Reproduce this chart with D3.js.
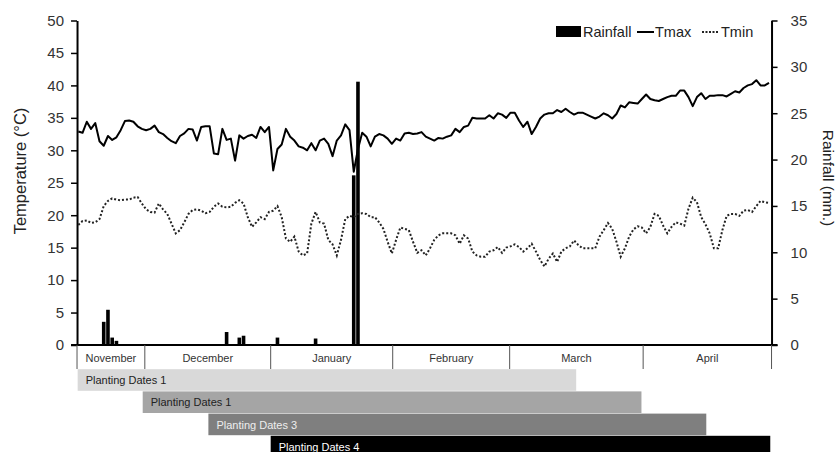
<!DOCTYPE html>
<html lang="en">
<head>
<meta charset="utf-8">
<script src="https://cdnjs.cloudflare.com/ajax/libs/d3/7.8.5/d3.min.js"></script>
<style>
    body { margin: 0; background: #fff; }
    svg { display: block; font-family: "Liberation Sans", Arial, sans-serif; }
</style>
</head>
<body>
<div id="chart"></div>
<script>
// daily temperatures (Nov -> Apr)
var tmax = [32.9,32.7,34.4,33.3,34.2,31.4,30.7,32.2,31.6,32.0,33.1,34.5,34.6,34.4,33.7,33.3,33.1,33.3,33.8,32.8,
    32.5,31.9,31.4,31.1,32.2,32.6,33.3,33.2,31.5,33.6,33.7,33.7,29.5,29.4,33.3,31.6,31.8,28.4,32.3,31.8,
    32.2,32.4,31.9,33.6,32.8,33.6,26.9,30.2,30.9,33.3,32.1,31.5,30.6,30.4,30.0,31.1,30.0,31.5,31.8,31.0,
    29.1,31.5,32.3,34.0,33.1,26.7,30.2,32.7,32.1,30.6,32.1,32.5,32.3,31.8,31.0,31.8,31.5,32.6,32.7,32.5,32.6,
    32.8,32.1,31.8,31.5,31.9,31.8,32.1,32.3,33.3,32.8,33.6,33.8,35.0,34.9,34.9,34.9,35.4,34.9,35.7,35.5,
    35.0,35.8,35.8,34.6,33.6,34.4,32.5,33.6,34.9,35.5,35.7,35.7,36.2,35.9,36.4,35.9,35.5,35.8,35.8,35.5,35.2,
    34.9,35.2,35.7,35.4,34.9,35.6,36.9,36.6,37.4,37.3,37.2,37.9,38.6,37.9,37.7,37.6,37.9,38.2,38.4,38.4,
    39.2,39.2,38.2,36.8,38.2,38.8,37.9,38.4,38.4,38.5,38.5,38.3,38.7,39.1,38.9,39.6,40.0,40.2,40.8,40.0,40.0,40.4];

var tmin = [18.5,19.1,19.2,18.8,18.9,19.4,21.4,22.2,22.6,22.4,22.3,22.4,22.4,22.7,22.8,21.8,20.9,20.5,20.4,21.8,
    20.9,20.2,18.7,17.2,17.7,18.9,20.2,20.8,20.9,20.7,20.3,20.5,21.3,21.8,21.3,21.2,21.3,21.9,22.3,21.8,
    19.7,18.2,18.9,19.7,19.4,20.5,20.7,21.4,19.7,16.4,15.9,16.7,14.4,13.8,14.1,18.7,20.5,18.9,18.7,16.2,
    15.5,13.8,16.2,19.4,19.9,19.7,20.2,20.3,20.2,19.7,19.7,18.9,17.9,15.9,14.1,16.2,18.1,17.9,17.7,15.9,14.2,
    14.6,13.8,14.9,16.2,16.9,17.2,17.2,17.2,16.9,15.6,16.9,16.4,14.4,13.8,13.6,13.6,14.4,14.6,15.1,14.2,
    15.0,15.2,15.5,15.1,14.4,14.9,15.6,14.4,13.1,12.1,13.3,14.1,12.8,14.4,14.9,15.2,16.1,15.4,14.9,14.9,14.9,
    14.9,16.7,17.7,18.8,17.9,15.9,13.6,14.9,16.7,17.8,18.3,18.1,17.2,18.2,20.2,19.9,18.4,17.2,18.2,18.9,
    18.7,18.4,21.0,22.7,22.0,19.7,18.6,17.2,14.9,14.9,17.7,19.9,20.2,20.2,19.9,20.7,20.8,20.5,21.4,22.2,22.0,21.9];

// rain days (index into the daily series) and amounts
var rainDay = [6, 7, 8, 9, 35, 38, 39, 47, 56, 65, 66];
var rainMm = [2.5, 3.8, 0.8, 0.45, 1.4, 0.8, 1.0, 0.8, 0.7, 18.3, 28.4];

// month cells under the axis, edges in day index
var months = ["November", "December", "January", "February", "March", "April"];
var monthEdges = [-0.3, 15.7, 45.4, 74.2, 101.8, 133.3, 163.6];

// planting windows, in day index
var plantLabels = ["Planting Dates 1", "Planting Dates 1", "Planting Dates 3", "Planting Dates 4"];
var plantStart = [-0.15, 15.2, 30.7, 45.4];
var plantEnd = [117.5, 132.9, 148.2, 163.3];

var tempTicks = [0, 5, 10, 15, 20, 25, 30, 35, 40, 45, 50];
var rainTicks = [0, 5, 10, 15, 20, 25, 30, 35];

(function() {
    var width = 837, height = 452;

    var svg = d3.select("#chart").append("svg")
        .attr("width", width)
        .attr("height", height);

    var x = d3.scaleLinear().domain([0, tmax.length - 1]).range([78.3, 769]);
    var yT = d3.scaleLinear().domain([0, 50]).range([345, 20.5]);
    var yR = d3.scaleLinear().domain([0, 35]).range([345, 20.5]);

    // axes
    var left = svg.append("g").attr("transform", "translate(" + x(-0.3) + ",0)")
        .call(d3.axisLeft(yT).tickValues(tempTicks).tickSize(6).tickPadding(7).tickSizeOuter(0));
    var right = svg.append("g").attr("transform", "translate(" + x(163.6) + ",0)")
        .call(d3.axisRight(yR).tickValues(rainTicks).tickSize(6).tickPadding(13).tickSizeOuter(0));

    [left, right].forEach(function(g) {
        g.select(".domain").attr("stroke", "#000").attr("stroke-width", 2);
        g.selectAll(".tick line").attr("stroke", "#000").attr("stroke-width", 1.5);
        g.selectAll(".tick text").attr("fill", "#333").style("font-size", "15px")
            .style("font-family", "Liberation Sans, Arial, sans-serif");
    });

    svg.append("line")
        .attr("x1", x(-0.3) - 6).attr("x2", x(163.6) + 6)
        .attr("y1", yT(0)).attr("y2", yT(0))
        .attr("stroke", "#000").attr("stroke-width", 2);

    // axis titles
    svg.append("text")
        .attr("transform", "translate(26,171) rotate(-90)")
        .attr("text-anchor", "middle")
        .style("font-size", "16.5px")
        .attr("fill", "#222")
        .text("Temperature (°C)");

    svg.append("text")
        .attr("transform", "translate(823,178) rotate(90)")
        .attr("text-anchor", "middle")
        .style("font-size", "15.5px")
        .attr("fill", "#222")
        .text("Rainfall (mm.)");

    // rainfall bars
    var bw = (x(1) - x(0)) * 0.85;
    svg.selectAll(".rain")
        .data(rainDay)
        .enter().append("rect")
        .attr("class", "rain")
        .attr("x", function(d) { return x(d) - bw / 2; })
        .attr("y", function(d, i) { return yR(rainMm[i]); })
        .attr("width", bw)
        .attr("height", function(d, i) { return yR(0) - yR(rainMm[i]); })
        .attr("fill", "#000");

    // temperature lines
    var line = d3.line()
        .x(function(d, i) { return x(i); })
        .y(function(d) { return yT(d); });

    svg.append("path")
        .datum(tmax)
        .attr("d", line)
        .attr("fill", "none")
        .attr("stroke", "#000")
        .attr("stroke-width", 2)
        .attr("stroke-linejoin", "round");

    svg.append("path")
        .datum(tmin)
        .attr("d", line)
        .attr("fill", "none")
        .attr("stroke", "#222")
        .attr("stroke-width", 2)
        .attr("stroke-dasharray", "2,2");

    // month table
    svg.selectAll(".mdiv")
        .data(monthEdges)
        .enter().append("line")
        .attr("x1", function(d) { return x(d); })
        .attr("x2", function(d) { return x(d); })
        .attr("y1", 345).attr("y2", 369)
        .attr("stroke", "#555").attr("stroke-width", 1);

    svg.selectAll(".mlab")
        .data(months)
        .enter().append("text")
        .attr("x", function(d, i) { return (x(monthEdges[i]) + x(monthEdges[i + 1])) / 2; })
        .attr("y", 362)
        .attr("text-anchor", "middle")
        .style("font-size", "11px")
        .attr("fill", "#333")
        .text(function(d) { return d; });

    // planting date bars
    var barFill = ["#d9d9d9", "#a5a5a5", "#7f7f7f", "#000000"];
    var barText = ["#222", "#222", "#eee", "#fff"];
    var rowH = 22.2;

    var rows = svg.selectAll(".plant")
        .data(plantLabels)
        .enter().append("g")
        .attr("class", "plant");

    rows.append("rect")
        .attr("x", function(d, i) { return x(plantStart[i]); })
        .attr("y", function(d, i) { return 369.2 + i * rowH; })
        .attr("width", function(d, i) { return x(plantEnd[i]) - x(plantStart[i]); })
        .attr("height", rowH - 0.6)
        .attr("fill", function(d, i) { return barFill[i]; });

    rows.append("text")
        .attr("x", function(d, i) { return x(plantStart[i]) + 8; })
        .attr("y", function(d, i) { return 369.2 + i * rowH + 15; })
        .style("font-size", "11px")
        .attr("fill", function(d, i) { return barText[i]; })
        .text(function(d) { return d; });

    // legend
    var lg = svg.append("g").style("font-size", "14.5px").attr("fill", "#222");
    lg.append("rect").attr("x", 556).attr("y", 26).attr("width", 25).attr("height", 11).attr("fill", "#000");
    lg.append("text").attr("x", 583).attr("y", 37).text("Rainfall");
    lg.append("line").attr("x1", 637).attr("x2", 654).attr("y1", 32).attr("y2", 32)
        .attr("stroke", "#000").attr("stroke-width", 2);
    lg.append("text").attr("x", 655).attr("y", 37).text("Tmax");
    lg.append("line").attr("x1", 702).attr("x2", 719).attr("y1", 32).attr("y2", 32)
        .attr("stroke", "#222").attr("stroke-width", 2).attr("stroke-dasharray", "2,1.5");
    lg.append("text").attr("x", 721).attr("y", 37).text("Tmin");
})();
</script>
</body>
</html>
